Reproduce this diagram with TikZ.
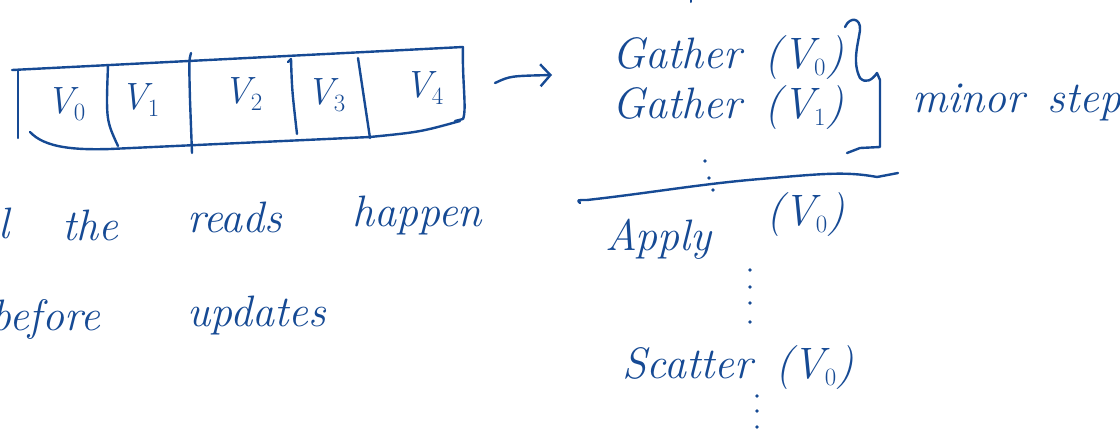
\documentclass[tikz,border=0pt]{standalone}
\usepackage{tikz}
\usetikzlibrary{arrows.meta, positioning}

\definecolor{ink}{RGB}{22,74,148}

\tikzset{
  pen/.style={draw=ink, line width=2.4pt, line cap=round, line join=round},
  word/.style={text=ink, inner sep=0pt, font=\fontsize{44}{48}\selectfont\itshape},
  cell/.style={text=ink, inner sep=0pt, font=\fontsize{38}{42}\selectfont\itshape},
  dot/.style={fill=ink, draw=none}
}

\begin{document}
\begin{tikzpicture}[x=1pt, y=-1pt]
  \useasboundingbox (0,0) rectangle (1120,432);
  \clip (0,0) rectangle (1120,432);

  % the vertex array
  \draw[pen] (12,70) -- (463,47);
  \draw[pen] (18,70) -- (18,138);
  \draw[pen] (463,47) .. controls (462,80) and (467,110) .. (463,119) -- (455,121);
  \draw[pen] (30,132) .. controls (45,148) and (75,150) .. (110,149)
             -- (370,137) .. controls (420,132) .. (460,121);
  \draw[pen] (108,65) .. controls (106,120) .. (118,146);
  \draw[pen] (191,53) .. controls (189,60) .. (190,100) -- (192,153);
  \draw[pen] (288,62) -- (291,59) .. controls (292,90) .. (297,134);
  \draw[pen] (358,58) -- (370,138);

  \node[cell] (v0) at (66,104) {V$_0$};
  \node[cell] (v1) at (140,100) {V$_1$};
  \node[cell] (v2) at (243,94) {V$_2$};
  \node[cell] (v3) at (326,95) {V$_3$};
  \node[cell] (v4) at (424,88) {V$_4$};

  \coordinate (arrtail) at (495,83);
  \coordinate (arrhead) at (552,75);
  \draw[pen, -{Straight Barb[length=10pt, width=22pt, line width=2.4pt]}]
    (arrtail) .. controls (510,76) .. (arrhead);

  % gather phase
  \node[word, anchor=base west] (g0) at (612,68) {Gather\, (V$_0$)};
  \node[word, anchor=base west] (g1) at (612,118) {Gather\, (V$_1$)};

  \draw[pen] (845,27) .. controls (850,16) and (861,18) .. (860,30)
             .. controls (858,45) and (852,62) .. (860,78)
             .. controls (866,84) and (872,80) .. (877,73)
             -- (880,80) -- (880,147) -- (860,148) -- (847,153);
  \node[word, anchor=base west] (minor) at (912,112) {minor\, step};

  \draw[pen, line width=2pt] (691,-2) -- (691,2);

  % barrier between the phases
  \draw[pen] (580,203) .. controls (577,200) .. (587,200)
             .. controls (650,193) and (700,184) .. (760,179)
             .. controls (820,174) and (845,171) .. (877,177)
             -- (898,173);
  \foreach \px/\py in {705/161, 709/178, 713/190}
    \fill[dot] (\px,\py) circle (1.8pt);

  % apply and scatter
  \node[word, anchor=base west] (apply) at (605,250) {Apply};
  \node[word, anchor=base west] (applyarg) at (766,225) {(V$_0$)};
  \foreach \py in {270,287,303,322}
    \fill[dot] (750,\py) circle (1.8pt);
  \node[word, anchor=base west] (scatter) at (622,378) {Scatter\, (V$_0$)};
  \foreach \py in {396,411,427}
    \fill[dot] (757,\py) circle (1.8pt);

  % note on the left
  \node[word, anchor=base east] (wall) at (10,238) {all};
  \node[word, anchor=base west] (wthe) at (62,240) {the};
  \node[word, anchor=base west] (wreads) at (187,232) {reads};
  \node[word, anchor=base west] (whappen) at (352,226) {happen};
  \node[word, anchor=base east] (wbefore) at (100,330) {before};
  \node[word, anchor=base west] (wupdates) at (187,326) {updates};
\end{tikzpicture}
\end{document}
